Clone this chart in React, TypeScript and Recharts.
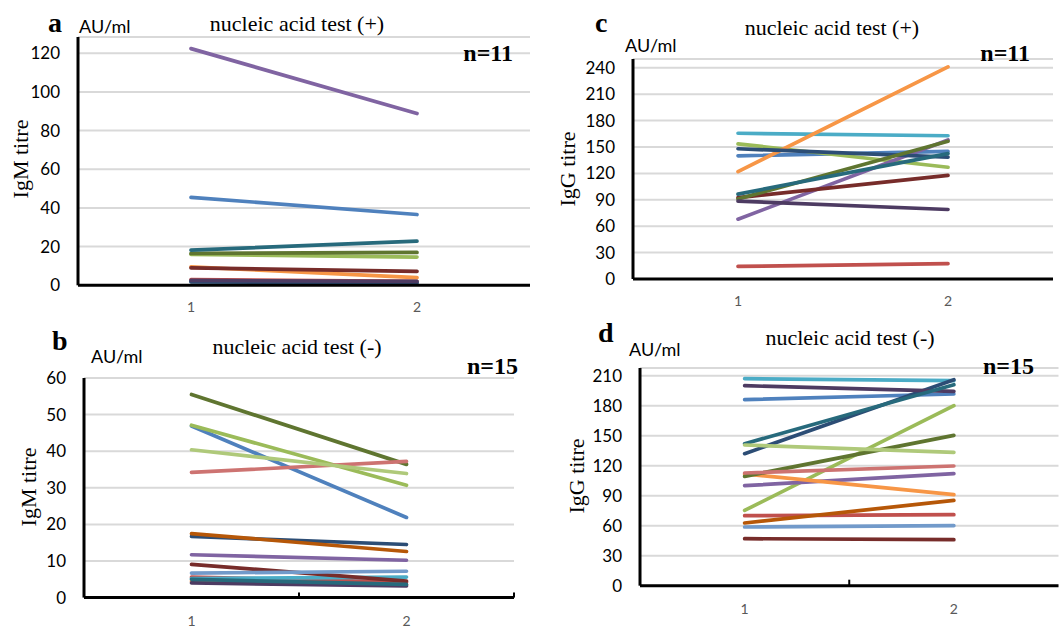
import React from 'react';
import { LineChart, Line, XAxis, YAxis, CartesianGrid, ReferenceLine } from 'recharts';

// two sampling points per patient
const visits = [1, 2];
const visitTicks = [1, 2];

// Excel-style series colours, in series order
const palette = [
  '#4F81BD', '#C0504D', '#9BBB59', '#8064A2', '#4BACC6', '#F79646',
  '#2C4D75', '#772C2A', '#5F7530', '#4D3B62', '#276A7C', '#B65708',
  '#729ACA', '#CD7371', '#AFC97A',
];

// a: IgM, nucleic acid test (+), n=11
const igmPosFirst = [45.5, 3, 16, 122.4, 2, 9.5, 1.8, 9, 16.5, 2.5, 18.2];
const igmPosSecond = [36.6, 2, 14.6, 88.8, 1.5, 4, 1.2, 7.2, 17, 2, 22.8];
const igmPosTicks = [0, 20, 40, 60, 80, 100, 120];

// b: IgM, nucleic acid test (-), n=15
const igmNegFirst = [46.9, 5.6, 47.1, 11.7, 5.2, 4.5, 16.7, 9.1, 55.5, 4.0, 5.0, 17.5, 6.7, 34.2, 40.4];
const igmNegSecond = [21.9, 4.2, 30.7, 10.2, 5.6, 3.5, 14.5, 4.5, 36.4, 3.2, 3.6, 12.6, 7.2, 37.2, 33.9];
const igmNegTicks = [0, 10, 20, 30, 40, 50, 60];

// c: IgG, nucleic acid test (+), n=11
const iggPosFirst = [140, 14.3, 153.6, 68, 165.6, 122, 148, 92.5, 91, 88.5, 96.5];
const iggPosSecond = [145, 17.4, 127, 158, 162.8, 241, 138.5, 117.8, 156.5, 79, 142.5];
const iggPosTicks = [0, 30, 60, 90, 120, 150, 180, 210, 240];

// d: IgG, nucleic acid test (-), n=15
const iggNegFirst = [186, 70, 75.3, 100, 207, 111.7, 132, 47, 109.3, 200, 142, 62.7, 58.7, 112.7, 140.7];
const iggNegSecond = [191.7, 71, 180, 112, 205, 91, 206, 46, 150.3, 194.3, 201, 85.3, 60, 119.7, 133.3];
const iggNegTicks = [0, 30, 60, 90, 120, 150, 180, 210];

const sans = 'Lato, "Open Sans", sans-serif';
const serif = '"Liberation Serif", "DejaVu Serif", serif';

function buildRows(first: number[], second: number[]) {
  return visits.map((v, i) => {
    const src = i === 0 ? first : second;
    const row: Record<string, number> = { visit: v };
    src.forEach((val, k) => {
      row['s' + k] = val;
    });
    return row;
  });
}

type Box = { x0: number; x1: number; y0: number; y1: number };

interface PanelProps {
  first: number[];
  second: number[];
  ticks: number[];
  yMax: number;
  box: Box;
  labelGap: number;
  tickMarks: { x: number; len: number }[];
}

function Panel({ first, second, ticks, yMax, box, labelGap, tickMarks }: PanelProps) {
  const rows = buildRows(first, second);
  const w = box.x1 - box.x0 + 80;
  const h = box.y1 - box.y0 + 50;
  return (
    <div style={{ position: 'absolute', left: box.x0 - 70, top: box.y0 - 10 }}>
      <LineChart width={w} height={h} data={rows} margin={{ top: 10, right: 10, bottom: 10, left: 10 }}>
        <CartesianGrid vertical={false} stroke="#d9d9d9" strokeWidth={2} />
        <XAxis
          dataKey="visit"
          type="number"
          domain={[0.5, 2.5]}
          ticks={visitTicks}
          height={30}
          tickLine={false}
          tickSize={0}
          tickMargin={labelGap}
          axisLine={{ stroke: '#000', strokeWidth: 3 }}
          tick={{ fill: '#595959', fontSize: 14, fontFamily: sans }}
        />
        <YAxis
          type="number"
          domain={[0, yMax]}
          ticks={ticks}
          interval={0}
          width={60}
          tickLine={false}
          tickSize={0}
          tickMargin={18}
          axisLine={{ stroke: '#000', strokeWidth: 3 }}
          tick={{ fill: '#000', fontSize: 17, fontFamily: sans }}
        />
        {tickMarks.map((t, i) => (
          <ReferenceLine
            key={'t' + i}
            segment={[{ x: t.x, y: 0 }, { x: t.x, y: t.len }]}
            stroke="#000"
            strokeWidth={2}
            ifOverflow="visible"
          />
        ))}
        {first.map((_, k) => (
          <Line
            key={k}
            type="linear"
            dataKey={'s' + k}
            stroke={palette[k]}
            strokeWidth={3.7}
            strokeLinecap="round"
            dot={false}
            activeDot={false}
            isAnimationActive={false}
          />
        ))}
      </LineChart>
    </div>
  );
}

function Txt(props: React.SVGProps<SVGTextElement>) {
  return <text fill="#000" {...props} />;
}

export default function App() {
  return (
    <div style={{ position: 'absolute', left: 0, top: 0, width: 1061, height: 629, background: '#fff', overflow: 'hidden' }}>
      <Panel first={igmPosFirst} second={igmPosSecond} ticks={igmPosTicks} yMax={128.4}
        box={{ x0: 78, x1: 530, y0: 36.7, y1: 285 }} labelGap={17} tickMarks={[{ x: 1.5, len: 1 }]} />
      <Panel first={iggPosFirst} second={iggPosSecond} ticks={iggPosTicks} yMax={250}
        box={{ x0: 633, x1: 1053, y0: 59.3, y1: 279.3 }} labelGap={17} tickMarks={[]} />
      <Panel first={igmNegFirst} second={igmNegSecond} ticks={igmNegTicks} yMax={60}
        box={{ x0: 84, x1: 514, y0: 377.7, y1: 597.3 }} labelGap={18.5}
        tickMarks={[{ x: 1.5, len: 1.4 }, { x: 2.5, len: 1.4 }]} />
      <Panel first={iggNegFirst} second={iggNegSecond} ticks={iggNegTicks} yMax={217.7}
        box={{ x0: 639.5, x1: 1058, y0: 368.3, y1: 586 }} labelGap={18.5} tickMarks={[{ x: 1.5, len: 6 }]} />

      <svg width={1061} height={629} style={{ position: 'absolute', left: 0, top: 0, pointerEvents: 'none' }}>
        {/* panel a */}
        <Txt x={48} y={32} fontFamily={serif} fontWeight="bold" fontSize={28}>a</Txt>
        <Txt x={79} y={33} fontFamily={sans} fontSize={18}>AU/ml</Txt>
        <Txt x={297} y={31} fontFamily={serif} fontSize={22} textAnchor="middle">nucleic acid test (+)</Txt>
        <Txt x={513} y={61} fontFamily={serif} fontWeight="bold" fontSize={24} textAnchor="end">n=11</Txt>
        <Txt transform="translate(28,159) rotate(-90)" fontFamily={serif} fontSize={22} textAnchor="middle">IgM titre</Txt>

        {/* panel c */}
        <Txt x={595} y={32} fontFamily={serif} fontWeight="bold" fontSize={28}>c</Txt>
        <Txt x={625} y={51.7} fontFamily={sans} fontSize={18}>AU/ml</Txt>
        <Txt x={832} y={35} fontFamily={serif} fontSize={22} textAnchor="middle">nucleic acid test (+)</Txt>
        <Txt x={1030} y={61} fontFamily={serif} fontWeight="bold" fontSize={24} textAnchor="end">n=11</Txt>
        <Txt transform="translate(575,169) rotate(-90)" fontFamily={serif} fontSize={22} textAnchor="middle">IgG titre</Txt>

        {/* panel b */}
        <Txt x={52} y={350} fontFamily={serif} fontWeight="bold" fontSize={28}>b</Txt>
        <Txt x={91} y={363.3} fontFamily={sans} fontSize={18}>AU/ml</Txt>
        <Txt x={297} y={354} fontFamily={serif} fontSize={22} textAnchor="middle">nucleic acid test (-)</Txt>
        <Txt x={518} y={374} fontFamily={serif} fontWeight="bold" fontSize={24} textAnchor="end">n=15</Txt>
        <Txt transform="translate(36,487) rotate(-90)" fontFamily={serif} fontSize={22} textAnchor="middle">IgM titre</Txt>

        {/* panel d */}
        <Txt x={598} y={341.7} fontFamily={serif} fontWeight="bold" fontSize={28}>d</Txt>
        <Txt x={629} y={356} fontFamily={sans} fontSize={18}>AU/ml</Txt>
        <Txt x={850} y={345} fontFamily={serif} fontSize={22} textAnchor="middle">nucleic acid test (-)</Txt>
        <Txt x={1034} y={374} fontFamily={serif} fontWeight="bold" fontSize={24} textAnchor="end">n=15</Txt>
        <Txt transform="translate(584,476) rotate(-90)" fontFamily={serif} fontSize={22} textAnchor="middle">IgG titre</Txt>
      </svg>
    </div>
  );
}
